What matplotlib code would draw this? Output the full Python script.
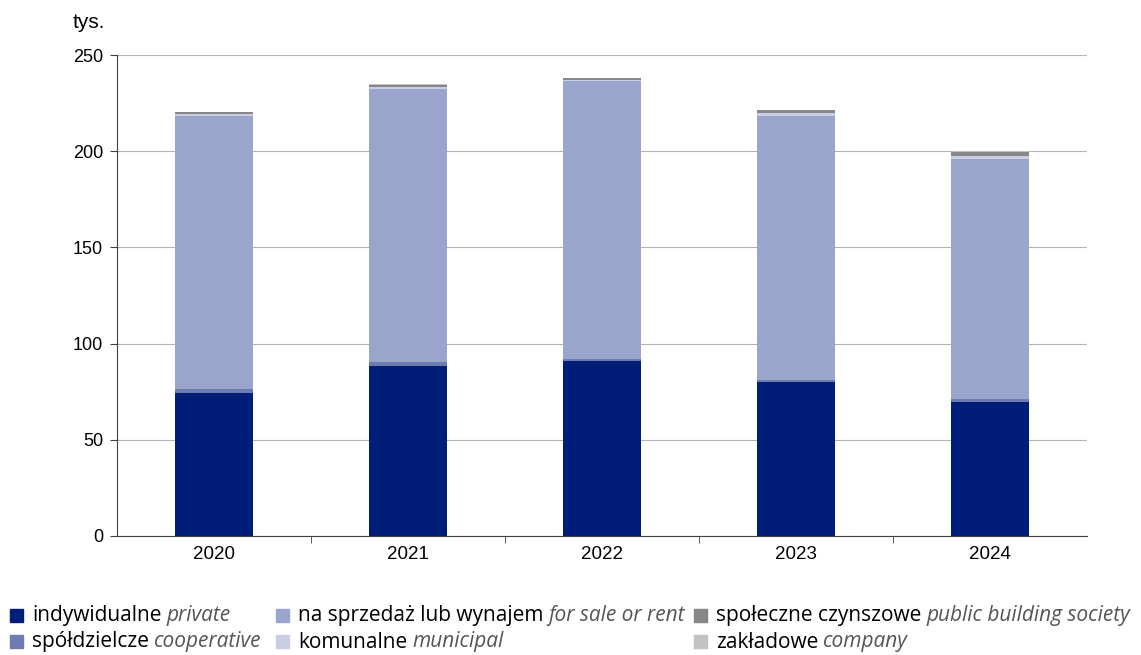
import matplotlib
matplotlib.use('Agg')
import matplotlib.pyplot as plt
from matplotlib.patches import Rectangle
import numpy as np

# dwellings completed, thousands
years = ['2020', '2021', '2022', '2023', '2024']
private = [74.2, 88.5, 91.2, 79.8, 69.6]
cooperative = [2.0, 2.0, 1.0, 1.3, 1.6]
for_sale = [142.0, 141.9, 144.4, 137.3, 124.8]
municipal = [1.0, 0.9, 0.5, 1.3, 1.5]
social = [1.0, 1.2, 0.8, 1.5, 2.3]
company = [0.3, 0.3, 0.2, 0.3, 0.2]

series = [private, cooperative, for_sale, municipal, social, company]
colors = ['#001e78', '#6d7cb3', '#99a5ca', '#c9cee6', '#878787', '#c3c3c3']
labels_pl = ['indywidualne', 'spółdzielcze', 'na sprzedaż lub wynajem', 'komunalne',
             'społeczne czynszowe', 'zakładowe']
labels_en = ['private', 'cooperative', 'for sale or rent', 'municipal',
             'public building society', 'company']

fig = plt.figure(figsize=(11.41, 6.55), dpi=100)
ax = fig.add_axes([117 / 1141, 1 - 536 / 655, 970 / 1141, 481 / 655])

x = np.arange(len(years))
bottom = np.zeros(len(years))
for vals, c in zip(series, colors):
    ax.bar(x, vals, width=0.40, bottom=bottom, color=c, zorder=3)
    bottom += np.array(vals)

ax.set_xlim(-0.5, len(years) - 0.5)
ax.set_ylim(0, 250)
ax.set_yticks(range(0, 251, 50))
ax.grid(axis='y', color='#b4b4b4', linewidth=0.8, zorder=0)
for s in ['top', 'right']:
    ax.spines[s].set_visible(False)
ax.spines['left'].set_color('#404040')
ax.spines['bottom'].set_color('#404040')
ax.tick_params(axis='y', length=5, color='#404040', labelsize=13, pad=5)
ax.set_xticks(x)
ax.set_xticklabels(years)
ax.tick_params(axis='x', length=0, labelsize=13.5, pad=7)
ax.set_xticks(np.arange(0.5, len(years) - 1, 1), minor=True)
ax.tick_params(axis='x', which='minor', length=5, color='#404040')
for t in ax.get_xticklabels() + ax.get_yticklabels():
    t.set_family('Liberation Sans')

fig.text(73 / 1141, 1 - 22 / 655, 'tys.', fontsize=15, family='Liberation Sans', va='center')

# legend, 3 columns x 2 rows
fig.canvas.draw()
r = fig.canvas.get_renderer()
col_x = [10, 276, 694]
row_y = [616, 642]
order = [(0, 0), (0, 1), (1, 0), (1, 1), (2, 0), (2, 1)]
for i, (ci, ri) in enumerate(order):
    px = col_x[ci]
    py = row_y[ri]
    fig.patches.append(Rectangle((px / 1141, 1 - (py + 6) / 655), 13 / 1141, 13 / 655,
                                 transform=fig.transFigure, color=colors[i]))
    t = fig.text((px + 22) / 1141, 1 - py / 655, labels_pl[i], fontsize=15,
                 family='Open Sans', va='center', color='black')
    bb = t.get_window_extent(r)
    fig.text((bb.x1 + 5) / 1141, 1 - py / 655, labels_en[i], fontsize=15,
             family='Open Sans', style='italic', va='center', color='#555555')

fig.savefig('out.png', dpi=100)
